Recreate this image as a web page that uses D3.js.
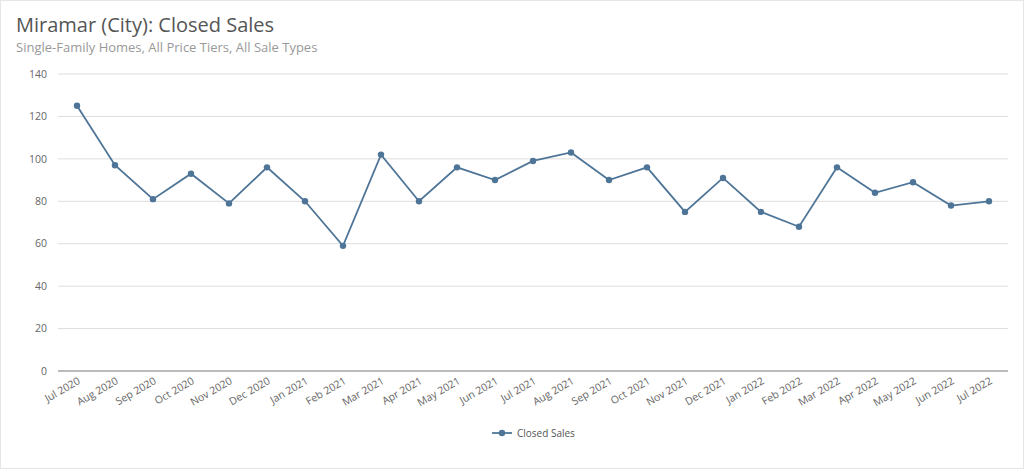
<!DOCTYPE html>
<html><head><meta charset="utf-8">
<script src="https://cdn.jsdelivr.net/npm/d3@7"></script>
<style>
body{margin:0;background:#fff;font-family:"Open Sans","Noto Sans",sans-serif;}
</style></head>
<body><svg id="chart" width="1024" height="469"></svg>
<script>
// data
const months = ["Jul 2020","Aug 2020","Sep 2020","Oct 2020","Nov 2020","Dec 2020","Jan 2021","Feb 2021","Mar 2021","Apr 2021","May 2021","Jun 2021","Jul 2021","Aug 2021","Sep 2021","Oct 2021","Nov 2021","Dec 2021","Jan 2022","Feb 2022","Mar 2022","Apr 2022","May 2022","Jun 2022","Jul 2022"];
const closedSales = [125,97,81,93,79,96,80,59,102,80,96,90,99,103,90,96,75,91,75,68,96,84,89,78,80];
const yTicks = [0,20,40,60,80,100,120,140];

const svg = d3.select("#chart");
const color = "#4e7597";

svg.append("rect").attr("x",0.5).attr("y",0.5).attr("width",1023).attr("height",468)
  .attr("fill","none").attr("stroke","#e6e6e6");

svg.append("text").attr("x",16).attr("y",32).attr("font-size",20).attr("fill","#555")
  .text("Miramar (City): Closed Sales");
svg.append("text").attr("x",16).attr("y",52).attr("font-size",13).attr("fill","#999")
  .text("Single-Family Homes, All Price Tiers, All Sale Types");

const x = d3.scalePoint().domain(months).range([77,989]);
const y = d3.scaleLinear().domain([0,140]).range([371,74]);

// grid
svg.selectAll("line.grid").data(yTicks).enter().append("line")
  .attr("x1",58).attr("x2",1008)
  .attr("y1",d=>y(d)).attr("y2",d=>y(d))
  .attr("stroke",d=>d===0?"#777":"#ddd").attr("stroke-width",1);

svg.selectAll("text.ylab").data(yTicks).enter().append("text")
  .attr("x",47).attr("y",d=>y(d)).attr("dy","0.35em")
  .attr("text-anchor","end").attr("font-size",10.5).attr("fill","#666")
  .text(d=>d);

svg.selectAll("text.xlab").data(months).enter().append("text")
  .attr("transform",d=>`translate(${x(d)+4},${383}) rotate(-30)`)
  .attr("text-anchor","end").attr("font-size",10.5).attr("fill","#666")
  .text(d=>d);

const line = d3.line().x((d,i)=>x(months[i])).y(d=>y(d));
svg.append("path").datum(closedSales).attr("d",line)
  .attr("fill","none").attr("stroke",color).attr("stroke-width",1.8);

svg.selectAll("circle.pt").data(closedSales).enter().append("circle")
  .attr("cx",(d,i)=>x(months[i])).attr("cy",d=>y(d)).attr("r",3.2).attr("fill",color);

// legend
const lg = svg.append("g").attr("transform","translate(492,433)");
lg.append("line").attr("x1",0).attr("x2",20).attr("stroke",color).attr("stroke-width",1.8);
lg.append("circle").attr("cx",10).attr("r",3.2).attr("fill",color);
lg.append("text").attr("x",25).attr("dy","0.35em").attr("font-size",10).attr("fill","#555").text("Closed Sales");
</script></body></html>
